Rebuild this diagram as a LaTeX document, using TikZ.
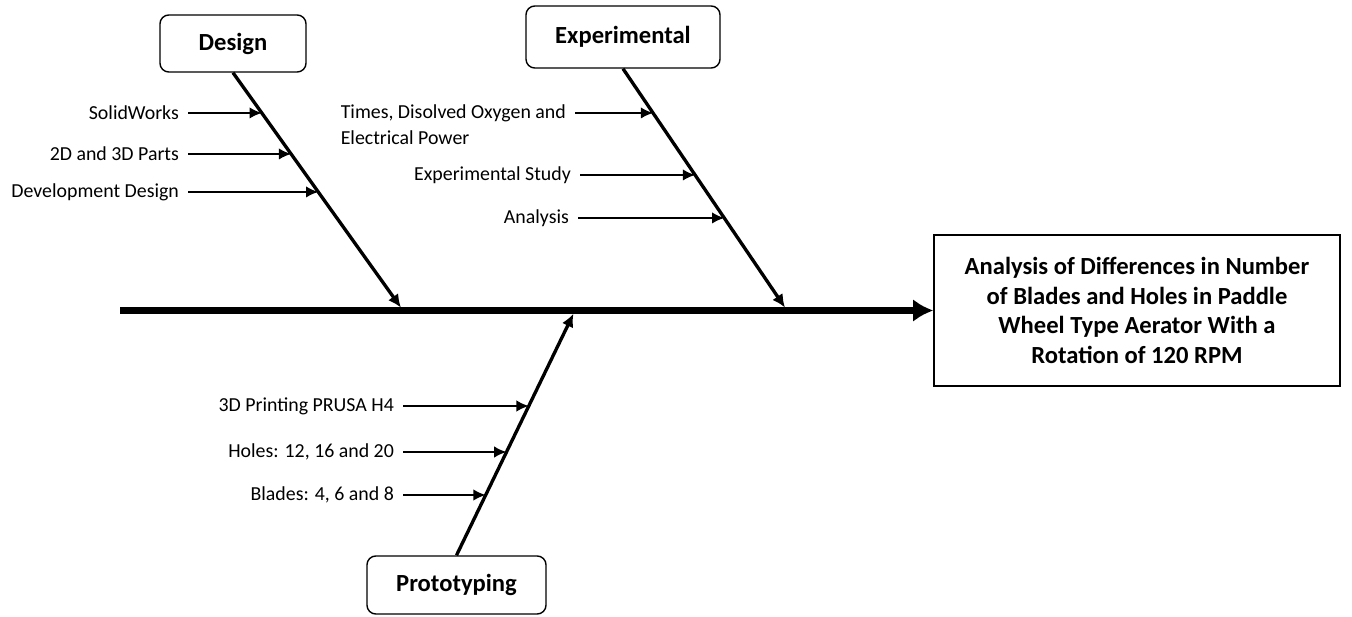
\documentclass[tikz,border=0pt]{standalone}
\usepackage{fontspec}
\setmainfont{Carlito}
\usetikzlibrary{arrows.meta}
\tikzset{>=Latex}
\tikzstyle{cause}=[draw,rounded corners=5pt,line width=0.8pt,font=\fontsize{14}{16}\selectfont\bfseries]
\tikzstyle{effect}=[draw,line width=0.8pt,minimum width=8.12cm,minimum height=3.02cm,align=center,font=\fontsize{14}{17}\selectfont\bfseries]
\tikzstyle{item}=[anchor=east,inner xsep=5pt,inner ysep=0pt,font=\fontsize{11.3}{14.8}\selectfont]
\tikzstyle{spine}=[-{Latex[length=11.5pt,width=13pt]},line width=4pt]
\tikzstyle{bone}=[-{Latex[length=7.5pt,width=7pt]},line width=1.9pt,shorten >=2pt]
\tikzstyle{sub}=[-{Latex[length=7pt,width=6.5pt]},line width=1pt]

\begin{document}
\begin{tikzpicture}
  \useasboundingbox (0,0) rectangle (27.04,12.32);
  \node[effect] (effect) at (22.74,6.11) {Analysis of Differences in Number\\of Blades and Holes in Paddle\\Wheel Type Aerator With a\\Rotation of 120 RPM};
  \coordinate (tail) at (2.4,6.11);
  \draw[spine] (tail) -- (effect.west);

  \node[cause,minimum width=2.92cm,minimum height=1.14cm] (design) at (4.66,11.45) {Design};
  \node[cause,minimum width=3.88cm,minimum height=1.24cm] (exp) at (12.46,11.58) {Experimental};
  \node[cause,minimum width=3.58cm,minimum height=1.16cm] (proto) at (9.13,0.62) {Prototyping};
  \coordinate (dtip) at (8.06,6.11);
  \coordinate (etip) at (15.74,6.11);
  \coordinate (ptip) at (11.5,6.11);
  \draw[bone] (design.south) -- (dtip);
  \draw[bone] (exp.south) -- (etip);
  \draw[bone] (proto.north) -- (ptip);

  \foreach \y/\t [count=\i] in {10.06/SolidWorks,9.24/2D and 3D Parts,8.48/Development Design}{
    \node[item] (d\i) at (3.76,\y) {\t};
    \draw[sub] (d\i.east) -- (intersection cs: first line={(design.south)--(dtip)}, second line={(d\i.east)--([xshift=1cm]d\i.east)});
  }

  \node[item,anchor=north east,align=left] (times) at (11.5,10.23) {Times, Disolved Oxygen and\\Electrical Power};
  \coordinate (times-out) at ([yshift=-0.17cm]times.north east);
  \draw[sub] (times-out) -- (intersection cs: first line={(exp.south)--(etip)}, second line={(times-out)--([xshift=1cm]times-out)});
  \foreach \x/\y/\t [count=\i] in {11.6/8.82/Experimental Study,11.56/7.96/Analysis}{
    \node[item] (e\i) at (\x,\y) {\t};
    \draw[sub] (e\i.east) -- (intersection cs: first line={(exp.south)--(etip)}, second line={(e\i.east)--([xshift=1cm]e\i.east)});
  }

  \foreach \y/\t [count=\i] in {4.2/3D Printing PRUSA H4,3.28/{Holes: 12, 16 and 20},2.42/{Blades: 4, 6 and 8}}{
    \node[item] (p\i) at (8.06,\y) {\t};
    \draw[sub] (p\i.east) -- (intersection cs: first line={(proto.north)--(ptip)}, second line={(p\i.east)--([xshift=1cm]p\i.east)});
  }
\end{tikzpicture}
\end{document}
